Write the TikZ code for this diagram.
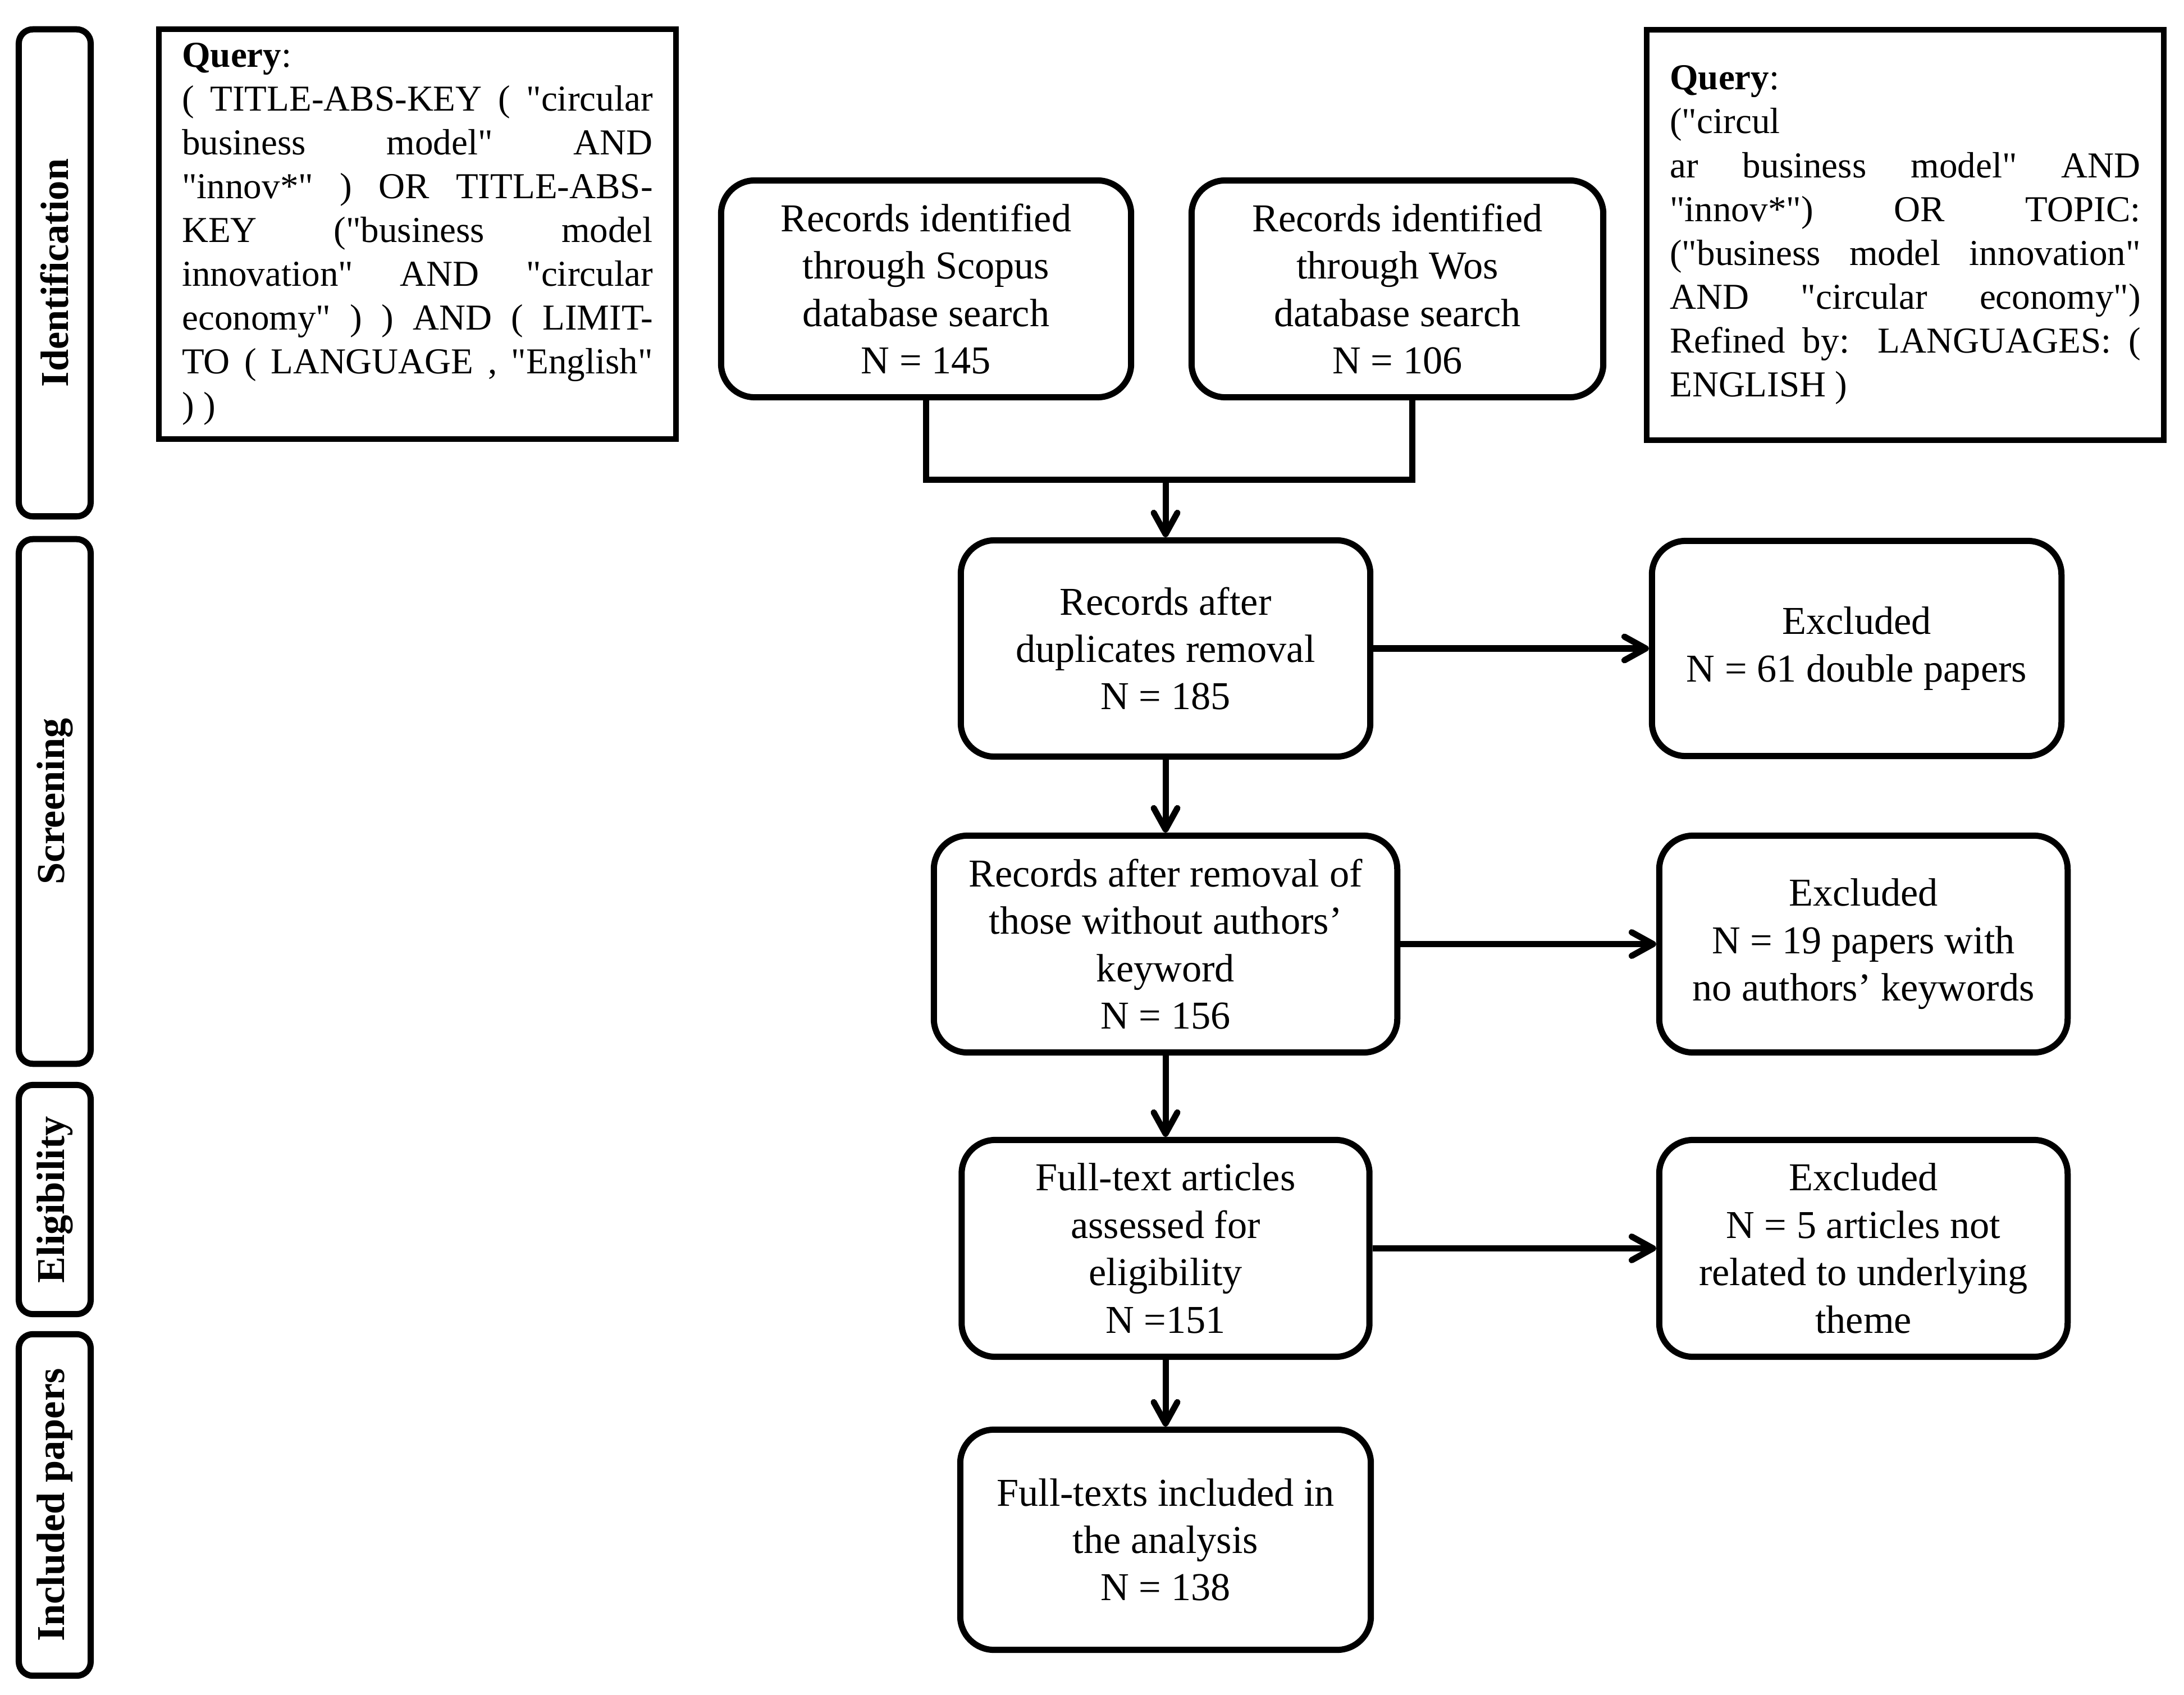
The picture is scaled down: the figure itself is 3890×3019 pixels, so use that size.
\documentclass[tikz,border=0pt]{standalone}
\usepackage{fontspec}
\setmainfont{Liberation Serif}[Ligatures=TeXOff]
\usetikzlibrary{arrows.meta}
\begin{document}
\begin{tikzpicture}[x=0.01cm,y=-0.01cm,
  lw/.style={line width=0.11cm},
  mainbox/.style={draw, lw, rounded corners=0.6cm, align=center, inner sep=0pt,
    font=\fontsize{20pt}{24pt}\selectfont},
  sidebox/.style={draw, lw, rounded corners=0.25cm, rotate=90, inner sep=0pt,
    minimum height=1.28cm, font=\fontsize{20pt}{24pt}\selectfont\bfseries},
  querybox/.style={draw, line width=0.1cm, align=left, inner sep=0pt,
    font=\fontsize{18.5pt}{22.2pt}\selectfont},
  arr/.style={lw, -{Straight Barb[length=0.38cm,width=0.42cm,line cap=round,line join=round]}}
]
\useasboundingbox (0,0) rectangle (3890,3019);

% side phase labels
\node[sidebox, minimum width=8.67cm] (sid) at (97.5,486) {Identification};
\node[sidebox, minimum width=9.34cm] (sscr) at (97.5,1427.5) {Screening};
\node[sidebox, minimum width=4.08cm] (selig) at (97.5,2136.5) {Eligibility};
\node[sidebox, minimum width=6.08cm] (sincl) at (97.5,2680.5) {Included papers};

% query boxes
\node[querybox, minimum width=9.20cm, minimum height=7.29cm] (q1) at (743.5,417) {%
\textbf{Query}:\\
\makebox[8.38cm][s]{( TITLE-ABS-KEY ( "circular}\\
\makebox[8.38cm][s]{business model" AND}\\
\makebox[8.38cm][s]{"innov*" ) OR TITLE-ABS-}\\
\makebox[8.38cm][s]{KEY ("business model}\\
\makebox[8.38cm][s]{innovation" AND "circular}\\
\makebox[8.38cm][s]{economy" ) ) AND ( LIMIT-}\\
\makebox[8.38cm][s]{TO ( LANGUAGE , "English"}\\
) )};

\node[querybox, minimum width=9.20cm, minimum height=7.30cm] (q2) at (3393.5,418.5) {%
\textbf{Query}:\\
("circul\\
\makebox[8.38cm][s]{ar business model" AND}\\
\makebox[8.38cm][s]{"innov*") OR TOPIC:}\\
\makebox[8.38cm][s]{("business model innovation"}\\
\makebox[8.38cm][s]{AND "circular economy")}\\
\makebox[8.38cm][s]{Refined by: LANGUAGES: (}\\
ENGLISH )};

% main flow
\node[mainbox, minimum width=7.30cm, minimum height=3.86cm] (scopus) at (1649.5,514.5)
  {Records identified\\through Scopus\\database search\\N = 145};
\node[mainbox, minimum width=7.33cm, minimum height=3.86cm] (wos) at (2489,514.5)
  {Records identified\\through Wos\\database search\\N = 106};
\node[mainbox, minimum width=7.29cm, minimum height=3.85cm] (dup) at (2076,1155)
  {Records after\\duplicates removal\\N = 185};
\node[mainbox, minimum width=7.29cm, minimum height=3.83cm] (excl1) at (3307,1155)
  {Excluded\\N = 61 double papers};
\node[mainbox, minimum width=8.25cm, minimum height=3.86cm] (kw) at (2076,1681.5)
  {Records after removal of\\those without authors’\\keyword\\N = 156};
\node[mainbox, minimum width=7.27cm, minimum height=3.86cm] (excl2) at (3319,1681.5)
  {Excluded\\N = 19 papers with\\no authors’ keywords};
\node[mainbox, minimum width=7.26cm, minimum height=3.86cm] (ft) at (2076,2223.5)
  {Full-text articles\\assessed for\\eligibility\\N =151};
\node[mainbox, minimum width=7.27cm, minimum height=3.86cm] (excl3) at (3319,2223.5)
  {Excluded\\N = 5 articles not\\related to underlying\\theme};
\node[mainbox, minimum width=7.31cm, minimum height=3.92cm] (incl) at (2076,2742.5)
  {Full-texts included in\\the analysis\\N = 138};

% connectors
\coordinate (mj) at (2076,855);
\draw[lw] (scopus.south) |- (mj);
\draw[lw] ([xshift=0.26cm]wos.south) |- (mj);
\draw[arr] (mj) -- (dup.north);
\draw[arr] (dup.east) -- (excl1.west);
\draw[arr] (dup.south) -- (kw.north);
\draw[arr] (kw.east) -- (excl2.west);
\draw[arr] (kw.south) -- (ft.north);
\draw[arr] (ft.east) -- (excl3.west);
\draw[arr] (ft.south) -- (incl.north);
\end{tikzpicture}
\end{document}
